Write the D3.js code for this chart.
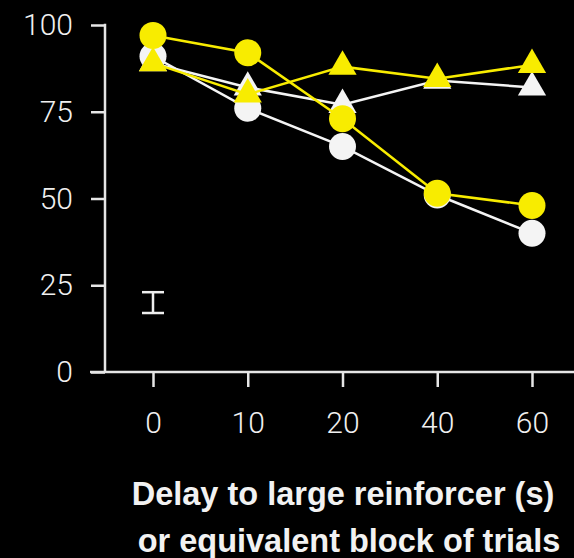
<!DOCTYPE html>
<html>
<head>
<meta charset="utf-8">
<script src="https://cdn.jsdelivr.net/npm/d3@7"></script>
<style>
  html, body { margin: 0; padding: 0; background: #000; }
  svg { display: block; }
</style>
</head>
<body>
<svg id="chart" width="574" height="558"></svg>
<script>
// Delay conditions (s)
const delays = ["0", "10", "20", "40", "60"];
const yTicks = [0, 25, 50, 75, 100];

// Percent choice of large reinforcer per condition
const whiteCircles   = [91, 76, 65, 51, 40];
const whiteTriangles = [89, 82, 77, 84, 82];
const yellowTriangles = [89, 80, 88, 84.5, 88.5];
const yellowCircles  = [97, 92, 73, 51.5, 48];

// Representative error bar (mean ± half-width), drawn at the first delay
const errCategory = "0";
const errMean = 20;
const errHalf = 3;

const series = [
  { values: whiteCircles,   color: "#f4f4f4", shape: "circle" },
  { values: whiteTriangles, color: "#f4f4f4", shape: "triangle" },
  { values: yellowTriangles, color: "#f8ec00", shape: "triangle" },
  { values: yellowCircles,  color: "#f8ec00", shape: "circle" }
];

const svg = d3.select("#chart");
const axisColor = "#e6e6e6";
const tickFont = "Roboto, 'Liberation Sans', Arial, sans-serif";

const x = d3.scalePoint().domain(delays).range([153, 532]);
const y = d3.scaleLinear().domain([0, 100]).range([372, 25]);

// Y axis
const yAxis = svg.append("g")
  .attr("transform", "translate(105,0)")
  .call(d3.axisLeft(y).tickValues(yTicks).tickSize(14).tickSizeOuter(0).tickPadding(18));
yAxis.select(".domain").remove();
yAxis.append("line")
  .attr("x1", 0).attr("x2", 0)
  .attr("y1", y(100) - 1.25).attr("y2", y(0))
  .attr("stroke", axisColor).attr("stroke-width", 2.5);
yAxis.selectAll(".tick line").attr("stroke", axisColor).attr("stroke-width", 2.5);
yAxis.selectAll(".tick text")
  .attr("fill", "#f0f0f0")
  .style("font-family", tickFont)
  .style("font-weight", 300)
  .style("font-size", "30px");

// X axis
const xAxis = svg.append("g")
  .attr("transform", "translate(0,372)")
  .call(d3.axisBottom(x).tickSize(15).tickSizeOuter(0).tickPadding(25));
xAxis.select(".domain").remove();
xAxis.append("line")
  .attr("x1", 90).attr("x2", 574)
  .attr("y1", 0).attr("y2", 0)
  .attr("stroke", axisColor).attr("stroke-width", 2.5);
xAxis.selectAll(".tick line").attr("stroke", axisColor).attr("stroke-width", 2.5);
xAxis.selectAll(".tick text")
  .attr("fill", "#f0f0f0")
  .style("font-family", tickFont)
  .style("font-weight", 300)
  .style("font-size", "30px");

// Axis title
const title = svg.append("text")
  .attr("fill", "#f2f2f2")
  .attr("text-anchor", "middle")
  .style("font-family", "'Liberation Sans', Arial, sans-serif")
  .style("font-weight", "bold")
  .style("font-size", "32.5px");
title.append("tspan").attr("x", 343).attr("y", 505).text("Delay to large reinforcer (s)");
title.append("tspan").attr("x", 349).attr("y", 552).text("or equivalent block of trials");

// Error bar
const eb = svg.append("g").attr("stroke", "#eeeeee").attr("stroke-width", 2.5);
const ex = x(errCategory);
eb.append("line").attr("x1", ex).attr("x2", ex)
  .attr("y1", y(errMean + errHalf)).attr("y2", y(errMean - errHalf));
eb.append("line").attr("x1", ex - 11).attr("x2", ex + 11)
  .attr("y1", y(errMean + errHalf)).attr("y2", y(errMean + errHalf));
eb.append("line").attr("x1", ex - 11).attr("x2", ex + 11)
  .attr("y1", y(errMean - errHalf)).attr("y2", y(errMean - errHalf));

// Series lines and markers
const line = d3.line()
  .x((d, i) => x(delays[i]))
  .y(d => y(d));

const triPath = d3.symbol().type(d3.symbolTriangle).size(345);

series.forEach(s => {
  const g = svg.append("g");
  g.append("path")
    .attr("d", line(s.values))
    .attr("fill", "none")
    .attr("stroke", s.color)
    .attr("stroke-width", 2.5);
  if (s.shape === "circle") {
    g.selectAll("circle").data(s.values).join("circle")
      .attr("cx", (d, i) => x(delays[i]))
      .attr("cy", d => y(d))
      .attr("r", 13.5)
      .attr("fill", s.color);
  } else {
    g.selectAll("path.mk").data(s.values).join("path")
      .attr("class", "mk")
      .attr("d", triPath)
      .attr("transform", (d, i) => `translate(${x(delays[i])},${y(d)})`)
      .attr("fill", s.color);
  }
});
</script>
</body>
</html>
